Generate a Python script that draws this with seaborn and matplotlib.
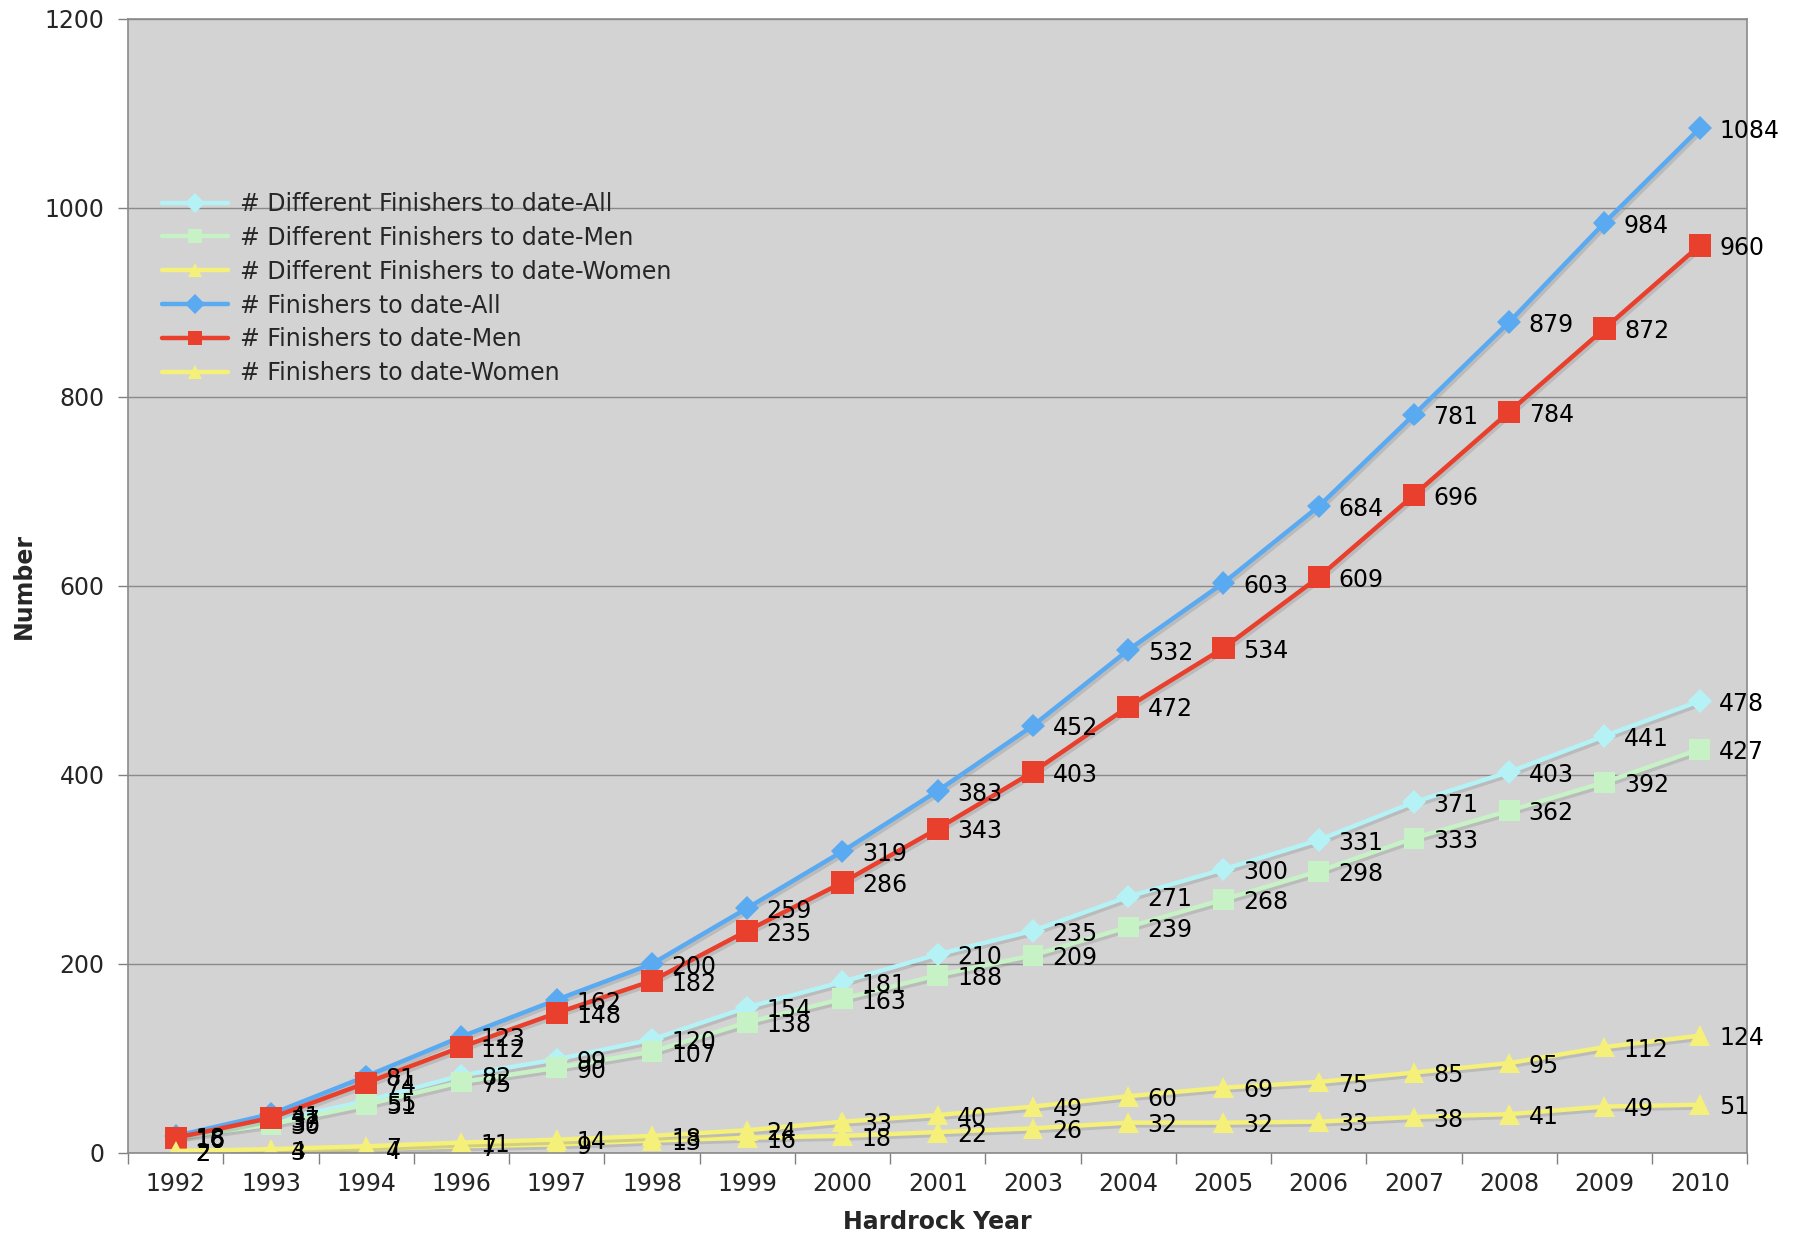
import numpy as np
import pandas as pd
import matplotlib
matplotlib.use("Agg")
import matplotlib.pyplot as plt
import matplotlib.patheffects as pe
import seaborn as sns

# --- podaci ---
years = ['1992', '1993', '1994', '1996', '1997', '1998', '1999', '2000', '2001',
         '2003', '2004', '2005', '2006', '2007', '2008', '2009', '2010']

diff_all = [18, 33, 55, 82, 99, 120, 154, 181, 210, 235, 271, 300, 331, 371, 403, 441, 478]
diff_men = [16, 30, 51, 75, 90, 107, 138, 163, 188, 209, 239, 268, 298, 333, 362, 392, 427]
diff_women = [2, 3, 4, 7, 9, 13, 16, 18, 22, 26, 32, 32, 33, 38, 41, 49, 51]
fin_all = [18, 41, 81, 123, 162, 200, 259, 319, 383, 452, 532, 603, 684, 781, 879, 984, 1084]
fin_men = [16, 37, 74, 112, 148, 182, 235, 286, 343, 403, 472, 534, 609, 696, 784, 872, 960]
fin_women = [2, 4, 7, 11, 14, 18, 24, 33, 40, 49, 60, 69, 75, 85, 95, 112, 124]

series_names = ['# Different Finishers to date-All',
                '# Different Finishers to date-Men',
                '# Different Finishers to date-Women',
                '# Finishers to date-All',
                '# Finishers to date-Men',
                '# Finishers to date-Women']
series_values = [diff_all, diff_men, diff_women, fin_all, fin_men, fin_women]

colors = ['#b4f2f6', '#c6f2c6', '#f4f07a', '#5aaaf2', '#e8402c', '#f4f07a']
markers = ['D', 's', '^', 'D', 's', '^']
msizes = [12, 15, 15, 12, 16, 15]

rows = []
for name, vals in zip(series_names, series_values):
    for i, v in enumerate(vals):
        rows.append({'pos': i, 'value': v, 'series': name})
df = pd.DataFrame(rows)

sns.set_theme(style="white")
plt.rcParams['font.family'] = ['DejaVu Sans']
FS = 17

fig = plt.figure(figsize=(17.94, 12.37), dpi=100)
ax = fig.add_axes([0.0714, 0.068, 0.9026, 0.917])
ax.set_facecolor('#d3d3d3')

sns.lineplot(data=df, x='pos', y='value', hue='series', style='series',
             hue_order=series_names, style_order=series_names,
             palette=dict(zip(series_names, colors)),
             markers=dict(zip(series_names, markers)),
             dashes=False, linewidth=3.2, markersize=14, markeredgewidth=0,
             ax=ax, sort=False)

shadow = [pe.SimpleLineShadow(offset=(1.5, -2), shadow_color='#909090', alpha=0.35), pe.Normal()]
for ln, ms in zip(ax.lines, msizes):
    ln.set_markersize(ms)
    ln.set_path_effects(shadow)

# oznake vrednosti
for vals in series_values:
    for i, v in enumerate(vals):
        ax.annotate(str(v), xy=(i, v), xytext=(14, -2), textcoords='offset points',
                    ha='left', va='center', fontsize=FS, color='black')

ax.set_xlim(-0.5, len(years) - 0.5)
ax.set_ylim(0, 1200)
ax.set_yticks(np.arange(0, 1201, 200))
ax.set_xticks(range(len(years)))
ax.set_xticklabels(years)
ax.set_xticks(np.arange(-0.5, len(years), 1), minor=True)
ax.tick_params(axis='x', which='major', length=0, labelsize=FS, pad=14)
ax.tick_params(axis='x', which='minor', length=8, width=1, color='#808080', direction='out', bottom=True)
ax.tick_params(axis='y', which='major', length=7, width=1, color='#808080', direction='out',
               left=True, labelsize=FS, pad=10)
ax.yaxis.grid(True, color='#8a8a8a', linewidth=1)
ax.xaxis.grid(False)
ax.set_axisbelow(True)
for sp in ax.spines.values():
    sp.set_color('#8a8a8a')
    sp.set_linewidth(1.2)

ax.set_xlabel('Hardrock Year', fontsize=FS, fontweight='bold', labelpad=10)
ax.set_ylabel('Number', fontsize=FS, fontweight='bold', labelpad=6)

sns.move_legend(ax, 'upper left', bbox_to_anchor=(0.008, 0.866), frameon=False,
                title=None, fontsize=FS, handlelength=2.8, labelspacing=0.42,
                handletextpad=0.5)
for h in ax.get_legend().legend_handles:
    h.set_markersize(10)

fig.savefig('out.png', dpi=100, facecolor='white')
plt.close(fig)
